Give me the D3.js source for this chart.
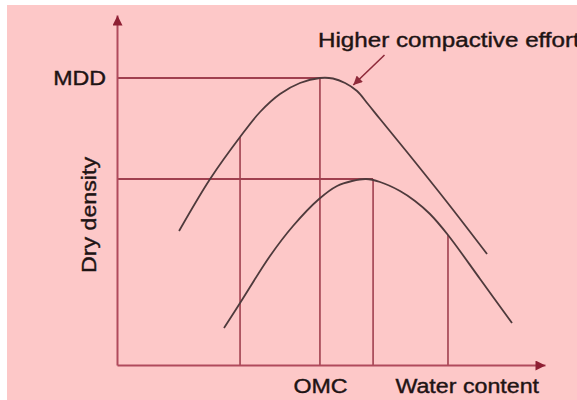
<!DOCTYPE html>
<html>
<head>
<meta charset="utf-8">
<script src="https://cdn.jsdelivr.net/npm/d3@7"></script>
<style>
    body { margin: 0; background: #ffffff; }
    svg { display: block; }
</style>
</head>
<body>
<svg id="chart"></svg>
<script>
// compaction curves (water content %, dry density g/cm3)
const upperWater   = [3.48, 5.22, 6.90, 8.02, 9.14, 10.26, 11.38, 12.11, 12.79, 13.46, 14.07, 14.75, 16.26, 18.50, 20.75];
const upperDensity = [1.668, 1.772, 1.856, 1.906, 1.942, 1.964, 1.974, 1.973, 1.964, 1.948, 1.922, 1.892, 1.826, 1.726, 1.622];

const lowerWater   = [6.00, 6.90, 8.58, 9.87, 11.33, 12.34, 13.18, 13.96, 14.75, 15.87, 16.71, 17.55, 18.56, 20.36, 22.15];
const lowerDensity = [1.474, 1.524, 1.618, 1.678, 1.732, 1.758, 1.768, 1.772, 1.766, 1.748, 1.728, 1.702, 1.660, 1.572, 1.484];

// vertical guide lines, from the axis up to the curve
const guideWater = [6.90, 11.38, 14.36, 18.56];
const guideTop   = [1.856, 1.974, 1.772, 1.660];

// horizontal guide lines, from the axis to the peak
const levelDensity = [1.974, 1.772];
const levelEnd     = [11.38, 14.36];

const xTicks = [11.38];
const xTickLabels = ['OMC'];
const yTicks = [1.974];
const yTickLabels = ['MDD'];

const arrowFrom = [15.0, 2.02];
const arrowTo   = [13.25, 1.96];

const xTitle = 'Water content';
const yTitle = 'Dry density';
const note = 'Higher compactive effort';

class CompactionChart {

    constructor( config ) {
        this.config = {
            parent: config.parent,
            width: config.width || 577,
            height: config.height || 400,
            margin: config.margin || {top:15, right:32, bottom:35, left:117}
        }
        this.init();
    }

    init() {
        let self = this;

        self.svg = d3.select( self.config.parent )
            .attr('width', self.config.width)
            .attr('height', self.config.height);

        self.svg.append('rect')
            .attr('x', 7).attr('y', 5)
            .attr('width', self.config.width - 7)
            .attr('height', self.config.height - 5)
            .attr('fill', '#fdc8c8');

        const defs = self.svg.append('defs');
        defs.append('marker')
            .attr('id', 'axis-head')
            .attr('markerUnits', 'userSpaceOnUse')
            .attr('viewBox', '0 0 10 10')
            .attr('refX', 10).attr('refY', 5)
            .attr('markerWidth', 11).attr('markerHeight', 10)
            .attr('orient', 'auto')
            .append('path')
            .attr('d', 'M0,0L10,5L0,10Z')
            .attr('fill', '#8e1f33');
        defs.append('marker')
            .attr('id', 'note-head')
            .attr('markerUnits', 'userSpaceOnUse')
            .attr('viewBox', '0 0 10 10')
            .attr('refX', 10).attr('refY', 5)
            .attr('markerWidth', 10).attr('markerHeight', 9)
            .attr('orient', 'auto')
            .append('path')
            .attr('d', 'M0,0L10,5L0,10Z')
            .attr('fill', '#8e2a3a');

        self.chart = self.svg.append('g')
            .attr('transform', `translate(${self.config.margin.left}, ${self.config.margin.top})`);

        self.inner_width = self.config.width - self.config.margin.left - self.config.margin.right;
        self.inner_height = self.config.height - self.config.margin.top - self.config.margin.bottom;

        self.xscale = d3.scaleLinear()
            .domain( [0, 24] )
            .range( [0, self.inner_width] );

        self.yscale = d3.scaleLinear()
            .domain( [1.40, 2.10] )
            .range( [self.inner_height, 0] );

        self.xaxis = d3.axisBottom( self.xscale )
            .tickValues( xTicks )
            .tickFormat( (d, i) => xTickLabels[i] )
            .tickSize(0)
            .tickSizeOuter(0)
            .tickPadding(14);

        self.yaxis = d3.axisLeft( self.yscale )
            .tickValues( yTicks )
            .tickFormat( (d, i) => yTickLabels[i] )
            .tickSize(0)
            .tickSizeOuter(0)
            .tickPadding(11);
    }

    render() {
        let self = this;
        const x = self.xscale, y = self.yscale;
        const guideColor = '#a0404f';
        const stretch = 1.16;

        // horizontal guides
        self.chart.selectAll('.level')
            .data( levelDensity )
            .join('line')
            .attr('x1', x(0))
            .attr('x2', (d, i) => x(levelEnd[i]))
            .attr('y1', d => y(d))
            .attr('y2', d => y(d))
            .attr('stroke', guideColor)
            .attr('stroke-width', 1.8);

        // vertical guides
        self.chart.selectAll('.guide')
            .data( guideWater )
            .join('line')
            .attr('x1', d => x(d))
            .attr('x2', d => x(d))
            .attr('y1', y(1.40))
            .attr('y2', (d, i) => y(guideTop[i]))
            .attr('stroke', guideColor)
            .attr('stroke-width', 1.6);

        const line = d3.line()
            .x( d => x(d[0]) )
            .y( d => y(d[1]) )
            .curve( d3.curveCatmullRom.alpha(0.5) );

        const curves = [
            upperWater.map( (w, i) => [w, upperDensity[i]] ),
            lowerWater.map( (w, i) => [w, lowerDensity[i]] )
        ];

        self.chart.selectAll('.curve')
            .data( curves )
            .join('path')
            .attr('d', line)
            .attr('fill', 'none')
            .attr('stroke', '#4e3a3c')
            .attr('stroke-width', 1.8);

        // axes with arrow heads
        const xg = self.chart.append('g')
            .attr('transform', `translate(0, ${self.inner_height})`)
            .call( self.xaxis );
        const yg = self.chart.append('g')
            .call( self.yaxis );

        [xg, yg].forEach( g => {
            g.attr('font-family', '"Liberation Sans", Arial, sans-serif')
                .attr('font-size', 20);
            g.select('.domain')
                .attr('stroke', '#b04a5c')
                .attr('stroke-width', 2)
                .attr('marker-end', 'url(#axis-head)');
            g.selectAll('text').attr('fill', '#1e1414');
        });

        // annotation arrow
        self.chart.append('line')
            .attr('x1', x(arrowFrom[0])).attr('y1', y(arrowFrom[1]))
            .attr('x2', x(arrowTo[0])).attr('y2', y(arrowTo[1]))
            .attr('stroke', '#8e2a3a')
            .attr('stroke-width', 1.6)
            .attr('marker-end', 'url(#note-head)');

        const labels = self.svg.append('g')
            .attr('font-family', '"Liberation Sans", Arial, sans-serif')
            .attr('font-size', 20)
            .attr('fill', '#1e1414');

        labels.append('text')
            .attr('x', 539).attr('y', 393)
            .attr('text-anchor', 'end')
            .text( xTitle );

        labels.append('text')
            .attr('transform', 'translate(96, 215) rotate(-90)')
            .attr('text-anchor', 'middle')
            .text( yTitle );

        labels.append('text')
            .attr('class', 'note')
            .attr('x', 318).attr('y', 47)
            .text( note );

        // the source lettering is wider and heavier than Arial at the same cap height
        self.svg.selectAll('text').each( function() {
            const w = this.getComputedTextLength();
            const k = this.getAttribute('class') === 'note' ? 1.21 : stretch;
            d3.select(this)
                .attr('textLength', w * k)
                .attr('lengthAdjust', 'spacingAndGlyphs')
                .attr('stroke', '#1e1414')
                .attr('stroke-width', 0.4);
        });
    }
}

const chart = new CompactionChart({ parent: '#chart' });
chart.render();
</script>
</body>
</html>
